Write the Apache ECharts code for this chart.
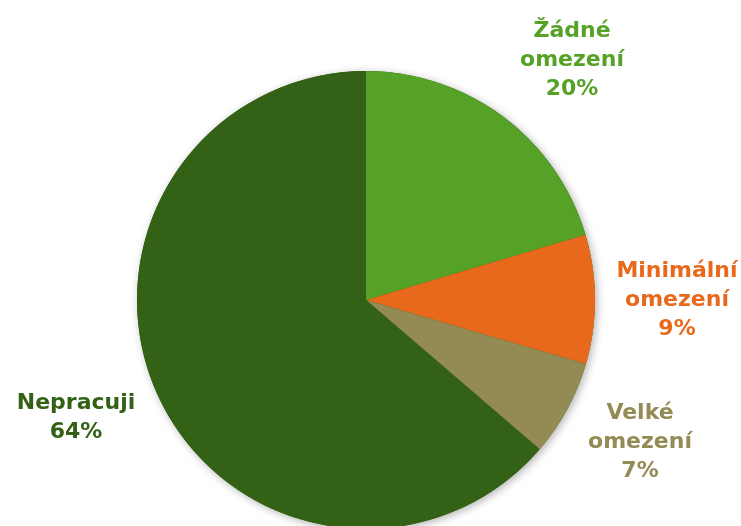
<!DOCTYPE html>
<html>
<head>
<meta charset="utf-8">
<script src="https://cdn.jsdelivr.net/npm/echarts@6/dist/echarts.min.js"></script>
<style>
  html, body { margin: 0; padding: 0; background: #fff; }
  #chart { width: 741px; height: 526px; }
</style>
</head>
<body>
<div id="chart"></div>
<script>
// data (shares in %, labels show them rounded)
const categories = ["Žádné\nomezení", "Minimální\nomezení", "Velké\nomezení", "Nepracuji"];
const values = [20.4, 9.1, 6.8, 63.7];
const colors = ["#55a226", "#e8691b", "#948a54", "#336116"];
// where each label sits (block centre)
const labelPos = [[572, 60], [677, 300], [640, 442], [76, 418]];

let myChart = echarts.init(document.getElementById("chart"));
myChart.setOption({
    animation: false,
    series: [
        {
            // soft shadow behind the whole pie
            type: "pie",
            silent: true,
            z: 1,
            center: [366, 300],
            radius: 229,
            data: [{ value: 1, name: "" }],
            itemStyle: {
                color: "#336116",
                shadowBlur: 8,
                shadowColor: "rgba(0,0,0,0.3)",
                shadowOffsetX: 2,
                shadowOffsetY: 2
            },
            label: { show: false },
            labelLine: { show: false }
        },
        {
            type: "pie",
            z: 2,
            center: [366, 300],
            radius: 229,
            startAngle: 90,
            clockwise: true,
            data: categories.map((c, i) => ({
                name: c,
                value: values[i],
                itemStyle: { color: colors[i] },
                label: { color: colors[i] }
            })),
            itemStyle: {
                borderWidth: 0
            },
            label: {
                show: true,
                position: "outside",
                formatter: function (p) {
                    return p.name + "\n" + Math.round(p.percent) + "%";
                },
                fontFamily: "DejaVu Sans",
                fontWeight: "bold",
                fontSize: 22,
                lineHeight: 29,
                align: "center",
                overflow: "none",
                width: 200
            },
            labelLine: { show: false },
            labelLayout: function (params) {
                const p = labelPos[params.dataIndex];
                return { x: p[0], y: p[1], align: "center", verticalAlign: "middle" };
            }
        }
    ]
});
</script>
</body>
</html>
